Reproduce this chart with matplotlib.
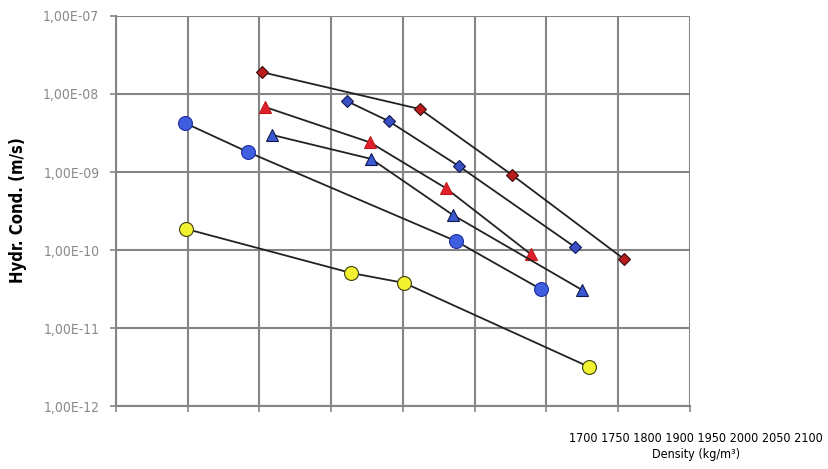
import matplotlib
matplotlib.use("Agg")
import matplotlib.pyplot as plt
from matplotlib.ticker import FixedLocator, NullFormatter, NullLocator

plt.rcParams['font.family'] = ['DejaVu Sans']
plt.rcParams['font.stretch'] = 'condensed'

# density (kg/m3) and hydraulic conductivity (m/s) for each series
red_dia_x = [1802, 1912, 1976, 2054]
red_dia_y = [1.9e-8, 6.4e-9, 9.2e-10, 7.7e-11]

blue_dia_x = [1861, 1890, 1939, 2020]
blue_dia_y = [8.1e-9, 4.5e-9, 1.19e-9, 1.09e-10]

red_tri_x = [1804, 1877, 1930, 1989]
red_tri_y = [6.8e-9, 2.4e-9, 6.2e-10, 8.9e-11]

blue_tri_x = [1809, 1878, 1935, 2025]
blue_tri_y = [2.98e-9, 1.47e-9, 2.8e-10, 3.07e-11]

blue_circ_x = [1748, 1792, 1937, 1996]
blue_circ_y = [4.25e-9, 1.8e-9, 1.3e-10, 3.16e-11]

yellow_circ_x = [1749, 1864, 1901, 2030]
yellow_circ_y = [1.86e-10, 5.07e-11, 3.78e-11, 3.16e-12]

x_grid = [1700, 1750, 1800, 1850, 1900, 1950, 2000, 2050, 2100]
y_ticks = [1e-12, 1e-11, 1e-10, 1e-9, 1e-8, 1e-7]
y_labels = ["1,00E-12", "1,00E-11", "1,00E-10", "1,00E-09", "1,00E-08", "1,00E-07"]
x_text = "1700 1750 1800 1900 1950 2000 2050 2100"

fig = plt.figure(figsize=(8.29, 4.69), dpi=100)
ax = fig.add_axes([0.14, 0.1343, 0.692, 0.8316])

ax.set_yscale('log')
ax.set_xlim(1700, 2100)
ax.set_ylim(1e-12, 1e-7)

ax.plot(red_dia_x, red_dia_y, '-', color='#222222', lw=1.3, marker='D', ms=6,
        mfc='#b81c1c', mec='#3a0a0a', mew=0.8, zorder=3)
ax.plot(blue_dia_x, blue_dia_y, '-', color='#222222', lw=1.3, marker='D', ms=6,
        mfc='#3b4fc4', mec='#101850', mew=0.8, zorder=3)
ax.plot(red_tri_x, red_tri_y, '-', color='#222222', lw=1.3, marker='^', ms=9,
        mfc='#e0202a', mec='#c01818', mew=0.8, zorder=3)
ax.plot(blue_tri_x, blue_tri_y, '-', color='#222222', lw=1.3, marker='^', ms=9,
        mfc='#3a58d0', mec='#101850', mew=0.8, zorder=3)
ax.plot(blue_circ_x, blue_circ_y, '-', color='#222222', lw=1.3, marker='o', ms=10,
        mfc='#3f5fe0', mec='#2030a0', mew=0.8, zorder=3)
ax.plot(yellow_circ_x, yellow_circ_y, '-', color='#222222', lw=1.3, marker='o', ms=10,
        mfc='#f2f230', mec='#404010', mew=0.8, zorder=3)

ax.xaxis.set_major_locator(FixedLocator(x_grid))
ax.xaxis.set_major_formatter(NullFormatter())
ax.xaxis.set_minor_locator(NullLocator())
ax.yaxis.set_major_locator(FixedLocator(y_ticks))
ax.set_yticklabels(y_labels)
ax.yaxis.set_minor_locator(NullLocator())

ax.grid(True, which='major', color='#858585', lw=1.5)
ax.set_axisbelow(True)
for side in ['top', 'right']:
    ax.spines[side].set_visible(False)
for side in ['left', 'bottom']:
    ax.spines[side].set_color('#858585')
    ax.spines[side].set_linewidth(1.5)
ax.tick_params(axis='both', length=4, width=1.2, color='#858585',
               labelsize=10, labelcolor='#8a8a8a', direction='out', pad=8)

fig.text(0.022, 0.552, "Hydr. Cond. (m/s)", rotation=90, ha='center', va='center',
         fontsize=12, fontweight='bold')
fig.text(0.839, 0.066, x_text, ha='center', va='center', fontsize=9.0)
fig.text(0.839, 0.030, "Density (kg/m³)", ha='center', va='center', fontsize=9.0)

fig.savefig("out.png", dpi=100)
